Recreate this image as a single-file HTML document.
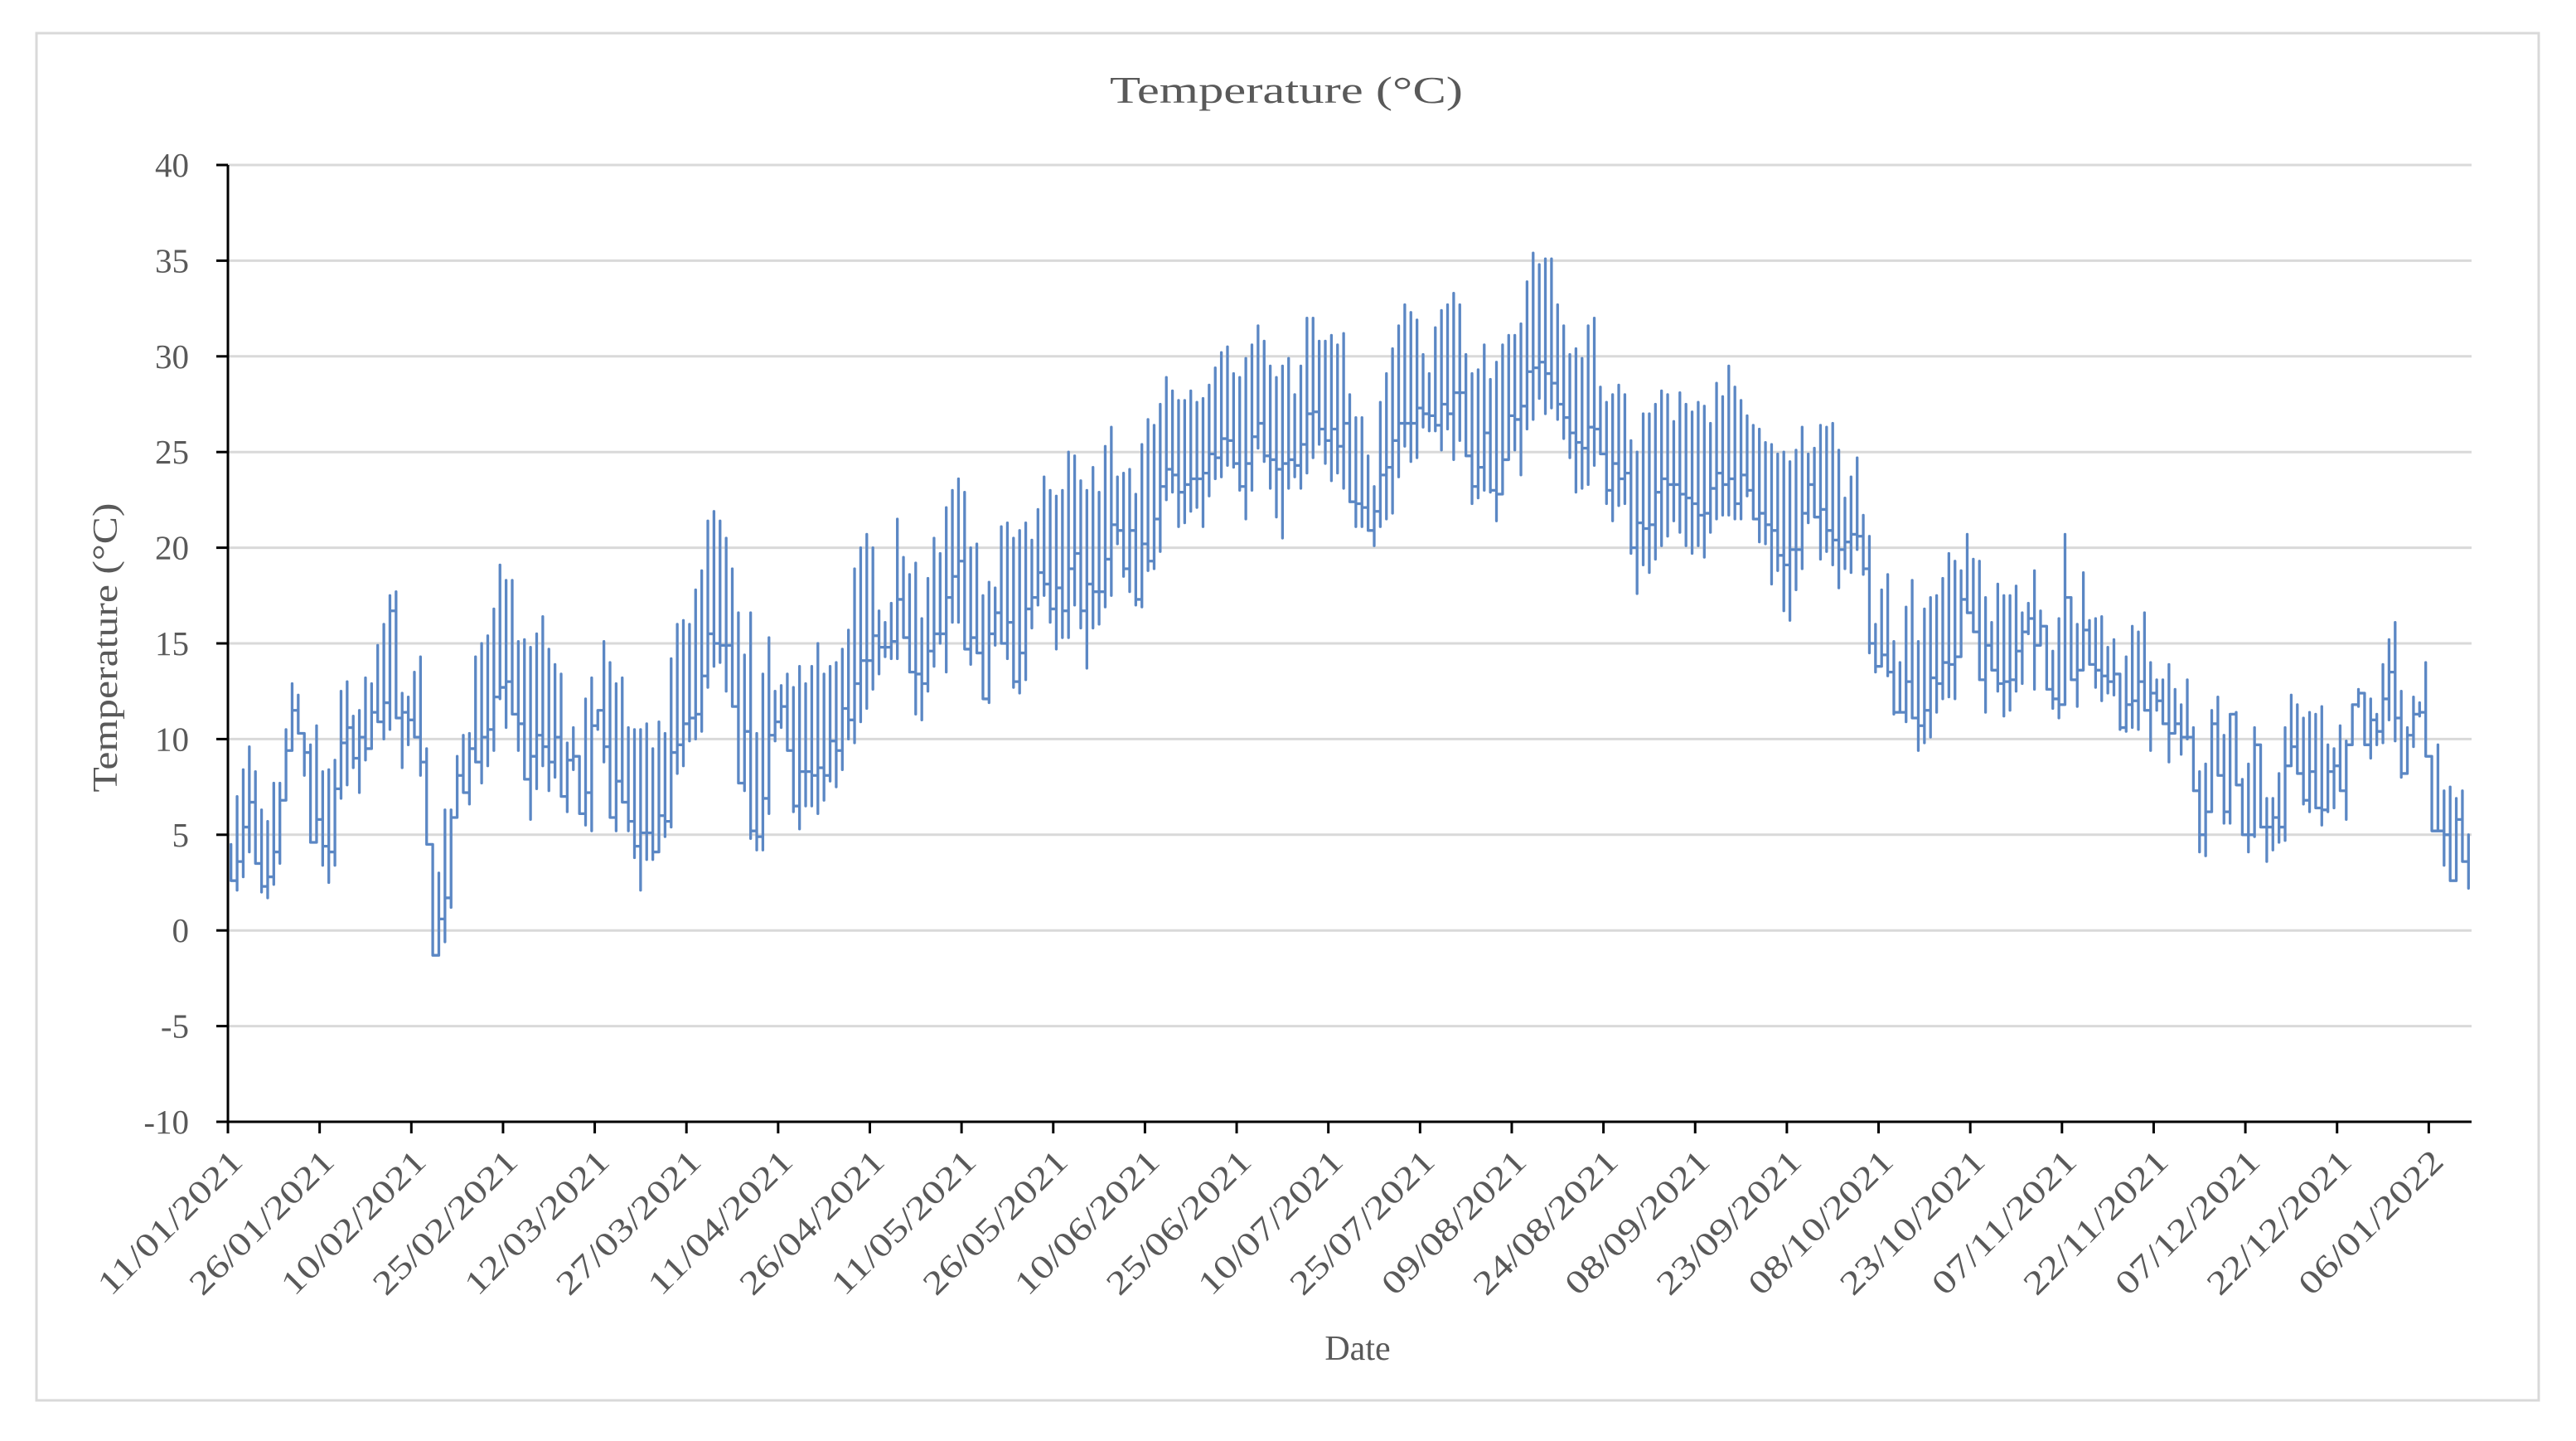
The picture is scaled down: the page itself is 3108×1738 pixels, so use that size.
<!DOCTYPE html>
<html><head><meta charset="utf-8"><title>Temperature (°C)</title>
<style>
html,body{margin:0;padding:0;background:#fff;}
svg{display:block;}
text{font-family:"Liberation Serif",serif;fill:#595959;}
</style></head>
<body>
<svg id="chart" width="3108" height="1738" viewBox="0 0 3108 1738" xmlns="http://www.w3.org/2000/svg">
<rect x="0" y="0" width="3108" height="1738" fill="#fff"/>
<rect x="44" y="40" width="3019" height="1649" fill="none" stroke="#d9d9d9" stroke-width="3"/>
<text x="1552" y="124" font-size="46" text-anchor="middle" textLength="426" lengthAdjust="spacingAndGlyphs">Temperature (°C)</text>
<g id="grid"></g>
<g id="series"></g>
<g id="axes"></g>
<text x="1638" y="1640" font-size="42" text-anchor="middle">Date</text>
<text x="0" y="0" font-size="42" text-anchor="middle" transform="translate(141,781) rotate(-90)" textLength="349" lengthAdjust="spacingAndGlyphs">Temperature (°C)</text>
</svg>
<script>
const yTicks = [40,35,30,25,20,15,10,5,0,-5,-10];
const xTickLabels = ["11/01/2021","26/01/2021","10/02/2021","25/02/2021","12/03/2021","27/03/2021","11/04/2021","26/04/2021","11/05/2021","26/05/2021","10/06/2021","25/06/2021","10/07/2021","25/07/2021","09/08/2021","24/08/2021","08/09/2021","23/09/2021","08/10/2021","23/10/2021","07/11/2021","22/11/2021","07/12/2021","22/12/2021","06/01/2022"];
const dailyHigh = [4.5,7.0,8.4,9.6,8.3,6.3,5.7,7.7,7.7,10.5,
12.9,12.3,10.3,9.7,10.7,8.3,8.4,8.9,12.5,13.0,
11.2,11.5,13.2,12.9,14.9,16.0,17.5,17.7,12.4,12.2,
13.5,14.3,9.5,4.5,3.0,6.3,6.3,9.1,10.2,10.3,
14.3,15.0,15.4,16.8,19.1,18.3,18.3,15.1,15.2,14.8,
15.5,16.4,14.7,13.9,13.4,9.8,10.6,9.0,12.1,13.2,
11.5,15.1,14.0,12.9,13.2,10.6,10.5,10.5,10.8,9.5,
10.9,10.3,14.2,16.0,16.2,16.0,17.8,18.8,21.4,21.9,
21.4,20.5,18.9,16.6,14.4,16.6,10.3,13.4,15.3,12.5,
12.8,13.4,12.7,13.8,12.9,13.8,15.0,13.4,13.8,14.0,
14.7,15.7,18.9,20.0,20.7,20.0,16.7,16.1,17.1,21.5,
19.5,18.6,19.2,16.3,18.4,20.5,19.7,22.1,23.0,23.6,
22.9,20.0,20.2,17.5,18.2,17.9,21.1,21.3,20.5,20.9,
21.3,20.4,22.0,23.7,23.0,22.7,23.0,25.0,24.8,23.5,
23.0,24.2,22.9,25.3,26.3,23.7,23.9,24.1,22.8,25.4,
26.7,26.4,27.5,28.9,28.2,27.7,27.7,28.2,27.6,27.8,
28.5,29.4,30.2,30.5,29.1,
28.9,29.9,30.6,31.6,30.8,29.5,28.9,29.5,29.9,28.0,
29.5,32.0,32.0,30.8,30.8,31.1,30.6,31.2,28.0,26.8,
26.8,24.8,23.2,27.6,29.1,30.4,31.6,32.7,32.3,31.9,
30.1,29.1,31.5,32.4,32.7,33.3,32.7,30.1,29.1,29.3,
30.6,28.8,
29.7,30.6,31.1,31.1,31.7,33.9,35.4,34.8,35.1,35.1,
32.7,31.6,30.1,30.4,29.9,31.6,32.0,28.4,27.6,28.0,
28.5,28.0,25.6,25.0,27.0,27.0,27.5,28.2,28.0,26.6,
28.1,27.5,27.1,27.6,27.4,26.5,28.6,27.9,29.5,28.4,
27.7,26.9,
26.4,26.2,25.5,25.4,24.9,25.0,24.5,25.1,26.3,24.9,
25.2,26.4,26.3,26.5,25.1,22.6,23.7,24.7,21.7,20.6,
16.0,17.8,18.6,15.1,14.0,16.9,18.3,15.1,16.8,17.4,
17.5,18.4,19.7,19.3,18.8,20.7,19.4,19.3,17.4,16.1,
18.1,17.5,
17.5,18.0,16.6,17.1,18.8,16.7,15.9,14.6,16.3,20.7,
17.2,16.0,18.7,16.2,16.3,16.4,14.8,15.2,13.4,14.3,
15.9,15.6,16.6,14.0,13.1,13.1,13.9,12.6,11.8,13.1,
10.6,8.3,8.7,11.5,12.2,10.2,11.3,11.4,7.9,8.7,
10.6,9.7,
6.9,6.9,8.2,10.6,12.3,11.8,11.1,11.4,11.3,11.7,
9.7,9.5,10.7,9.9,11.8,12.6,12.3,12.1,11.3,13.9,
15.2,16.1,12.5,10.6,12.2,11.9,14.0,9.1,9.7,7.3,
7.5,6.9,7.3,5.0];
const dailyLow = [2.6,2.1,2.8,4.1,3.5,2.0,1.7,2.4,3.5,6.8,
9.4,10.3,8.1,4.6,4.6,3.4,2.5,3.4,6.9,7.6,
8.5,7.2,8.9,9.5,10.9,10.0,10.5,11.1,8.5,9.7,
10.1,8.1,4.5,-1.3,-1.3,-0.6,1.2,5.9,7.2,6.6,
8.8,7.7,8.6,9.4,12.1,10.6,11.3,9.4,8.2,5.8,
7.4,8.6,7.3,8.0,7.2,6.2,8.4,6.1,5.5,5.2,
10.5,8.8,6.0,5.2,6.7,5.2,3.8,2.1,3.7,3.7,
4.1,4.9,5.4,8.2,8.6,9.9,10.0,10.4,12.7,13.8,
14.0,12.5,12.0,7.8,7.3,4.8,4.2,4.2,6.1,9.9,
10.6,9.4,6.2,5.3,6.5,6.5,6.1,6.8,7.8,7.5,
8.4,10.0,9.8,10.9,11.6,12.6,13.4,14.3,14.2,14.2,
15.3,13.5,11.3,11.0,12.5,13.8,15.0,13.5,16.1,16.1,
14.9,13.9,14.5,12.2,11.9,14.9,15.1,14.2,12.7,12.4,
13.1,15.8,17.0,17.5,16.1,14.7,15.3,15.3,17.0,15.8,
13.7,15.8,16.0,16.9,17.5,20.2,18.5,17.7,17.0,16.9,
18.8,18.9,19.8,22.5,22.9,21.1,21.3,21.9,22.1,21.1,
22.7,23.6,23.7,24.3,24.2,
23.0,21.5,23.0,25.2,24.5,23.1,21.6,20.5,23.1,23.7,
23.1,23.9,24.7,25.4,24.4,23.5,23.9,23.1,22.4,21.1,
21.1,20.9,20.1,21.1,21.5,21.8,23.7,25.3,24.5,24.7,
26.3,26.1,26.1,25.1,26.2,24.6,25.6,24.9,22.3,22.6,
23.0,22.9,
21.4,23.5,25.7,25.1,23.8,26.2,26.7,27.8,27.0,27.3,
26.7,25.7,24.7,22.9,23.1,23.3,24.3,25.1,22.3,21.4,
22.2,22.3,19.7,17.6,19.1,18.7,19.4,20.1,20.6,21.4,
20.8,20.1,19.7,20.1,19.5,20.8,21.5,21.7,21.7,21.5,
21.5,22.7,
21.6,20.3,20.2,18.1,18.8,16.7,16.2,17.8,18.9,21.3,
21.6,19.4,19.8,19.1,17.9,18.9,18.7,19.9,18.6,14.5,
13.5,13.8,13.3,11.3,11.4,10.9,11.1,9.4,9.8,10.1,
11.4,12.1,12.2,12.1,14.3,16.6,15.7,13.2,11.4,13.7,
12.5,11.2,
11.5,12.5,12.9,15.5,12.6,14.9,12.7,11.6,11.1,11.8,
13.1,11.7,13.6,13.9,12.7,12.0,12.4,12.3,10.5,10.4,
10.6,10.5,11.5,9.4,11.5,10.8,8.8,10.3,9.2,10.0,
7.3,4.1,3.9,6.2,8.2,5.6,5.6,7.6,5.1,4.1,
4.9,5.5,
3.6,4.2,4.6,4.7,8.7,8.2,6.6,6.2,6.4,5.5,
6.2,6.4,7.3,5.8,9.7,11.7,9.7,9.0,9.7,9.8,
11.0,9.9,8.0,8.2,9.6,11.2,9.2,5.2,5.5,3.4,
2.7,2.6,4.0,2.2];
const dailyClose = [2.6,3.6,5.4,6.7,3.5,2.3,2.8,4.1,6.8,9.4,
11.5,10.3,9.3,4.6,5.8,4.4,4.1,7.4,9.8,10.6,
9.0,10.1,9.5,11.4,10.9,11.9,16.7,11.1,11.4,11.0,
10.1,8.8,4.5,-1.3,0.6,1.7,5.9,8.1,7.2,9.5,
8.8,10.1,10.5,12.2,12.7,13.0,11.3,10.8,7.9,9.1,
10.2,9.6,8.8,10.1,7.0,8.9,9.1,6.1,7.2,10.7,
11.5,9.6,5.9,7.8,6.7,5.7,4.4,5.1,5.1,4.1,
6.0,5.7,9.3,9.7,10.8,11.1,11.3,13.3,15.5,15.0,
14.9,14.9,11.7,7.7,10.4,5.2,4.9,6.9,10.2,10.9,
11.7,9.4,6.5,8.3,8.3,8.1,8.5,8.1,9.9,9.4,
11.6,11.0,12.9,14.1,14.1,15.4,14.8,14.8,15.1,17.3,
15.3,13.5,13.4,12.9,14.6,15.5,15.5,17.4,18.5,19.3,
14.7,15.3,14.5,12.1,15.5,16.6,15.0,16.1,13.0,14.5,
16.8,17.4,18.7,18.1,16.8,17.9,16.7,18.9,19.7,16.7,
18.1,17.7,17.7,19.4,21.2,20.9,18.9,20.9,17.3,20.2,
19.3,21.5,23.2,24.1,23.8,22.9,23.3,23.6,23.6,23.9,
24.9,24.7,25.7,25.6,24.4,
23.2,24.4,25.8,26.5,24.8,24.6,24.1,24.4,24.6,24.3,
25.4,27.0,27.1,26.2,25.6,26.2,25.3,26.5,22.4,22.3,
22.1,20.9,21.9,23.8,24.2,25.6,26.5,26.5,26.5,27.3,
27.0,26.9,26.4,27.5,27.0,28.1,28.1,24.8,23.2,24.2,
26.0,23.0,
22.8,24.6,26.9,26.7,27.4,29.2,29.4,29.7,29.1,28.6,
27.5,26.8,26.0,25.5,25.2,26.3,26.2,24.9,23.0,24.4,
23.6,23.9,20.0,21.3,21.0,21.2,22.9,23.6,23.3,23.3,
22.8,22.6,22.3,21.7,21.8,23.1,23.9,23.3,23.6,22.3,
23.8,23.0,
21.5,21.8,21.2,20.9,19.6,19.1,19.9,19.9,21.8,23.3,
21.6,22.0,20.9,20.4,19.9,20.3,20.7,20.6,18.9,15.0,
13.8,14.4,13.5,11.4,11.4,13.0,11.1,10.7,11.5,13.2,
12.9,14.0,13.9,14.3,17.3,16.6,15.6,13.1,14.9,13.6,
12.9,13.0,
13.1,14.6,15.6,16.3,14.9,15.9,12.6,12.1,11.8,17.4,
13.1,13.6,15.7,13.9,13.6,13.3,13.0,13.4,10.6,11.8,
12.0,13.0,11.5,12.4,12.0,10.8,10.3,10.8,10.1,10.1,
7.3,5.0,6.2,10.8,8.1,6.2,11.3,7.6,5.0,5.0,
9.7,5.4,
5.4,5.9,5.4,8.6,9.6,8.2,6.8,8.3,6.4,6.3,
8.3,8.6,7.3,9.7,11.8,12.4,9.7,11.0,10.4,12.1,
13.5,11.1,8.2,10.2,11.3,11.4,9.1,5.2,5.2,5.0,
2.6,5.8,3.6,3.6];

const NS = "http://www.w3.org/2000/svg";
const plot = {left:275, right:2982, top:199, bottom:1353};
const yMin = -10, yMax = 40;
const dayCount = dailyHigh.length;
function yScale(v){ return plot.bottom - (v - yMin) / (yMax - yMin) * (plot.bottom - plot.top); }
function xSlot(d){ return plot.left + d * (plot.right - plot.left) / dayCount; }
function xScale(d){ return xSlot(d + 0.5); }
function mk(tag, attrs, parent){
  const el = document.createElementNS(NS, tag);
  for (const k in attrs) el.setAttribute(k, attrs[k]);
  parent.appendChild(el);
  return el;
}
const grid = document.getElementById('grid');
const axes = document.getElementById('axes');
const series = document.getElementById('series');

yTicks.forEach(function(v){
  const y = yScale(v);
  if (v !== yMin) {
    const g = mk('line', {x1:plot.left, x2:plot.right, y1:y, y2:y, stroke:'#d9d9d9', 'stroke-width':3}, grid);
    
    
  }
  const t = mk('line', {x1:plot.left - 14, x2:plot.left, y1:y, y2:y, stroke:'#000', 'stroke-width':3}, axes);
  
  
  const lb = mk('text', {x:228, y:y + 14, 'font-size':41, 'text-anchor':'end'}, axes);
  lb.textContent = String(v);
  
  
});

const yAxis = mk('line', {x1:plot.left, x2:plot.left, y1:plot.top, y2:plot.bottom + 1.5, stroke:'#000', 'stroke-width':3}, axes);


const xAxis = mk('line', {x1:plot.left - 1.5, x2:plot.right, y1:plot.bottom, y2:plot.bottom, stroke:'#000', 'stroke-width':3}, axes);



xTickLabels.forEach(function(lbl, i){
  const x = xSlot(i * 15);
  const t = mk('line', {x1:x, x2:x, y1:plot.bottom, y2:plot.bottom + 14, stroke:'#000', 'stroke-width':3}, axes);
  
  
  const tx = x + 20, ty = plot.bottom + 50;
  const lb = mk('text', {x:tx, y:ty, 'font-size':40, 'text-anchor':'end', transform:'rotate(-45 ' + tx + ' ' + ty + ')', textLength:228, lengthAdjust:'spacingAndGlyphs'}, axes);
  lb.textContent = lbl;
  
  
});

let pts = [];
let prev = dailyLow[0];
for (let d = 0; d < dayCount; d++) {
  const x = xScale(d).toFixed(2);
  pts.push(x + ',' + yScale(prev).toFixed(2));
  pts.push(x + ',' + yScale(dailyHigh[d]).toFixed(2));
  pts.push(x + ',' + yScale(dailyLow[d]).toFixed(2));
  pts.push(x + ',' + yScale(dailyClose[d]).toFixed(2));
  prev = dailyClose[d];
}
const line = mk('polyline', {points:pts.join(' '), fill:'none', stroke:'#5b87c4', 'stroke-width':3.3, 'stroke-linejoin':'round'}, series);


</script>
</body></html>
